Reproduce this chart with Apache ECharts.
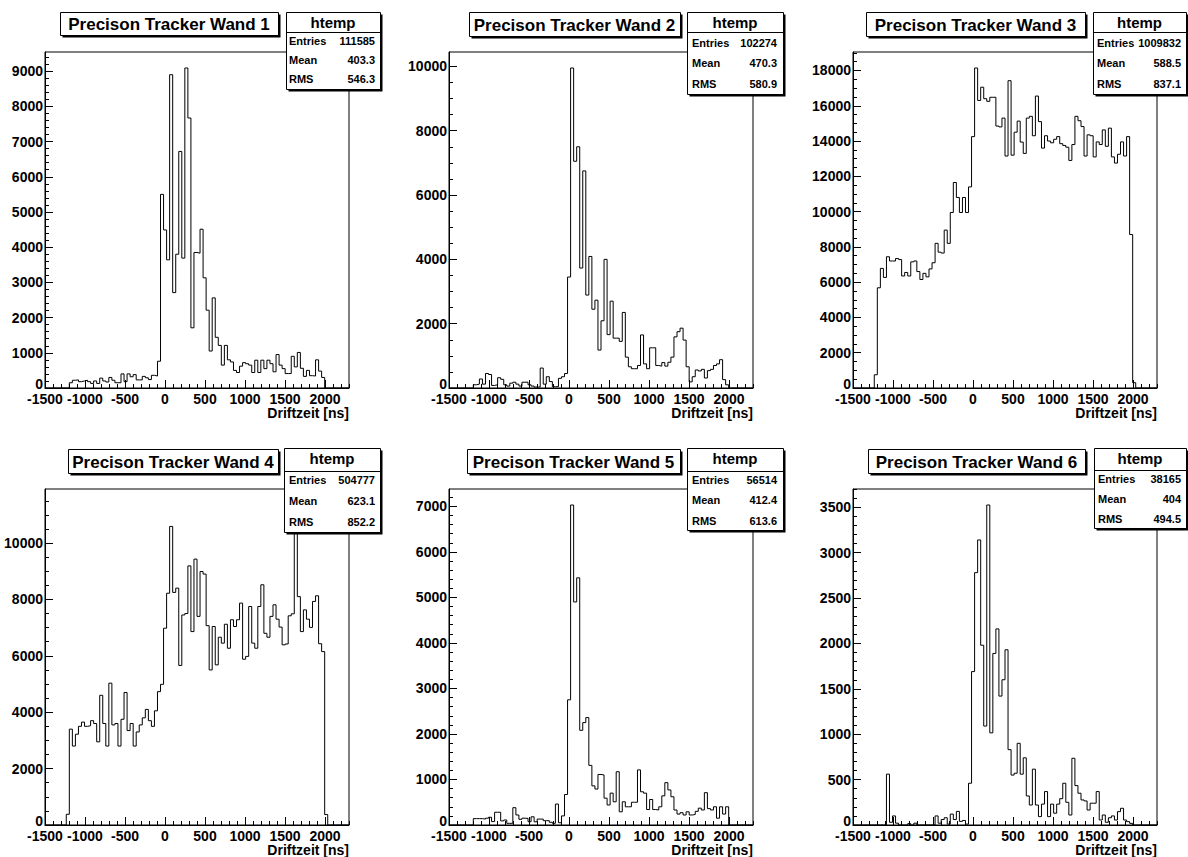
<!DOCTYPE html>
<html>
<head>
<meta charset="utf-8">
<title>Precison Tracker Driftzeit</title>
<script src="https://cdn.jsdelivr.net/npm/echarts@6/dist/echarts.min.js"></script>
<style>
  html, body { margin: 0; padding: 0; background: #ffffff; }
  #main { width: 1188px; height: 857px; }
</style>
</head>
<body>
<div id="main"></div>
<script>
// ---- Binning shared by all six walls (100 bins of 38 ns) ----
const binLow = -1500;
const binWidth = 38;
const binCount = 100;
const xAxisMax = binLow + binWidth * binCount;
const xLabelValues = [-1500, -1000, -500, 0, 500, 1000, 1500, 2000];
const xMinorStep = 100;

// ---- Bin contents, one array per wall ----
const wand1 = [
  0, 0, 0, 0, 0, 0, 0, 0, 150, 220,
  230, 180, 200, 220, 180, 130, 200, 130, 280, 200,
  170, 300, 220, 150, 150, 400, 180, 400, 320, 380,
  230, 230, 330, 290, 240, 360, 340, 760, 5500, 4490,
  3640, 8900, 2710, 3800, 6720, 3690, 9090, 7670, 1710, 3850,
  3830, 4510, 3130, 2210, 1050, 2560, 1440, 1210, 650, 1210,
  800, 740, 500, 440, 620, 720, 690, 650, 440, 790,
  440, 790, 550, 790, 690, 460, 950, 650, 550, 410,
  410, 900, 600, 1010, 560, 330, 500, 350, 340, 800,
  480, 300, 0, 0, 0, 0, 0, 0, 0, 0
];
const wand2 = [
  0, 0, 0, 0, 0, 0, 0, 0, 100, 120,
  280, 120, 450, 420, 80, 100, 320, 270, 100, 60,
  150, 180, 120, 60, 180, 180, 100, 60, 30, 30,
  620, 120, 350, 200, 40, 40, 300, 350, 450, 3450,
  9950, 7050, 7500, 3730, 6750, 2890, 4090, 2450, 2730, 1180,
  2090, 4000, 1660, 2700, 1550, 1550, 1450, 2350, 960, 660,
  600, 600, 700, 1650, 750, 600, 1250, 1250, 700, 680,
  790, 680, 800, 960, 1590, 1750, 1860, 1490, 660, 190,
  350, 560, 530, 580, 310, 540, 580, 700, 750, 880,
  260, 100, 0, 0, 0, 0, 0, 0, 0, 0
];
const wand3 = [
  0, 0, 0, 0, 0, 0, 0, 750, 5680, 6780,
  6270, 7440, 7200, 7200, 7340, 7280, 6350, 6550, 6350, 7150,
  7200, 6600, 6150, 6500, 6300, 6750, 7100, 8200, 7700, 7650,
  8950, 8200, 9950, 11650, 10800, 9950, 10800, 9950, 11400, 14250,
  18140, 16300, 17050, 16400, 16250, 16480, 16480, 14850, 14800, 15300,
  13150, 17420, 13200, 14500, 15130, 13940, 13300, 15300, 15400, 14300,
  16550, 15100, 13600, 14300, 14000, 13900, 14100, 14250, 13850, 13750,
  13650, 12900, 13800, 15400, 15150, 14820, 13150, 14350, 14300, 13100,
  13950, 13800, 14630, 13700, 14730, 13100, 12750, 13250, 13950, 13150,
  14250, 8700, 300, 0, 0, 0, 0, 0, 0, 0
];
const wand4 = [
  0, 0, 0, 0, 0, 0, 0, 380, 3400, 2800,
  3220, 3500, 3650, 3500, 3520, 3700, 3600, 2950, 4600, 3600,
  2800, 5030, 3550, 3600, 2800, 3750, 4700, 3350, 3600, 2800,
  3300, 3550, 3800, 4100, 3700, 3500, 4050, 4730, 4990, 6980,
  8220, 10590, 8250, 8400, 5660, 7450, 7500, 9190, 6860, 9430,
  7400, 8990, 8900, 7070, 5500, 7040, 5680, 6660, 6450, 7120,
  6270, 7280, 7040, 7280, 7870, 5880, 5980, 7750, 6450, 6270,
  7750, 8520, 6800, 6660, 7400, 7810, 7300, 7020, 6390, 6420,
  7420, 7490, 11350, 8100, 6860, 7630, 7300, 7010, 7930, 8130,
  6430, 6150, 370, 0, 0, 0, 0, 0, 0, 0
];
const wand5 = [
  0, 0, 0, 0, 0, 0, 0, 0, 140, 140,
  140, 130, 150, 170, 75, 280, 280, 90, 110, 37,
  37, 380, 220, 125, 150, 145, 73, 180, 70, 130,
  130, 95, 95, 60, 37, 460, 50, 200, 670, 2750,
  7030, 4900, 5430, 2080, 2250, 2360, 1310, 860, 790, 1110,
  1100, 590, 440, 700, 510, 1170, 290, 510, 400, 400,
  500, 500, 1210, 730, 700, 340, 560, 340, 330, 400,
  640, 930, 770, 620, 330, 240, 270, 220, 290, 220,
  230, 300, 370, 330, 710, 360, 330, 400, 150, 400,
  240, 400, 0, 0, 0, 0, 0, 0, 0, 0
];
const wand6 = [
  0, 0, 0, 0, 0, 0, 0, 0, 0, 0,
  0, 560, 30, 100, 20, 0, 0, 0, 15, 0,
  20, 0, 0, 0, 0, 0, 0, 100, 20, 60,
  80, 10, 120, 60, 150, 40, 50, 10, 460, 1690,
  2780, 3140, 1980, 1090, 3525, 1015, 1890, 2160, 1420, 1600,
  1930, 830, 550, 570, 900, 560, 740, 320, 220, 615,
  220, 92, 230, 368, 92, 230, 130, 230, 290, 460,
  250, 110, 735, 434, 350, 276, 265, 165, 240, 240,
  368, 55, 110, 30, 80, 100, 55, 147, 184, 55,
  37, 18, 0, 0, 0, 0, 0, 0, 0, 0
];
const histograms = [wand1, wand2, wand3, wand4, wand5, wand6];

// ---- Texts ----
const panelTitles = [
  'Precison Tracker Wand 1', 'Precison Tracker Wand 2', 'Precison Tracker Wand 3',
  'Precison Tracker Wand 4', 'Precison Tracker Wand 5', 'Precison Tracker Wand 6'
];
const statsName = 'htemp';
const statsEntries = ['111585', '102274', '1009832', '504777', '56514', '38165'];
const statsMean = ['403.3', '470.3', '588.5', '623.1', '412.4', '404'];
const statsRms = ['546.3', '580.9', '837.1', '852.2', '613.6', '494.5'];
const xTitle = 'Driftzeit [ns]';

// ---- Y tick spacing per wall ----
const yLabelStep = [1000, 2000, 2000, 2000, 1000, 500];
const yMinorStep = [200, 500, 500, 500, 200, 100];

// ---- Page layout in pixels (frame, title box, stats box) ----
const layout = [
  { grid: [45, 52, 304, 336], title: [60, 12, 218, 23], stats: [286, 12, 94, 77], head: 22, sep: 32, rows: [41, 60, 79], lx: 289, vx: 375, xname: 413 },
  { grid: [449, 52, 304, 336], title: [469, 12, 211, 24], stats: [687, 12, 96, 82], head: 22, sep: 32, rows: [43, 63, 84], lx: 692, vx: 777, xname: 413 },
  { grid: [853, 52, 304, 336], title: [866, 12, 219, 24], stats: [1093, 12, 93, 82], head: 22, sep: 32, rows: [43, 63, 84], lx: 1097, vx: 1181, xname: 413 },
  { grid: [45, 489, 304, 336], title: [68, 449, 210, 24], stats: [284, 448, 96, 84], head: 458, sep: 471, rows: [480, 501, 522], lx: 289, vx: 375, xname: 850 },
  { grid: [449, 489, 304, 336], title: [467, 449, 213, 24], stats: [687, 448, 96, 82], head: 458, sep: 471, rows: [480, 500, 521], lx: 692, vx: 777, xname: 850 },
  { grid: [853, 489, 304, 336], title: [868, 449, 217, 24], stats: [1094, 448, 92, 80], head: 458, sep: 470, rows: [479, 499, 519], lx: 1098, vx: 1181, xname: 850 }
];

const FONT = '"Liberation Sans", Arial, Helvetica, sans-serif';
const INK = '#000000';

// Step outline of a histogram: one point per lower bin edge, closed at the upper edge
function histPoints(counts) {
  const pts = counts.map((c, i) => [binLow + i * binWidth, c]);
  pts.push([binLow + binCount * binWidth, counts[counts.length - 1]]);
  return pts;
}

function range(from, to, step) {
  const out = [];
  for (let v = from; v <= to + 1e-9; v += step) out.push(v);
  return out;
}

const plainNumber = (v) => String(v);
// the count axis zero is lifted a little so it clears the time labels below it
const countLabel = (v) => (v === 0 ? '{zero|0}' : String(v));

const xMinorValues = range(binLow, xAxisMax, xMinorStep);

const grids = [], xAxes = [], yAxes = [], series = [], graphics = [];

histograms.forEach((counts, i) => {
  const L = layout[i];
  const yMax = Math.max(...counts) * 1.05;
  const yMajor = range(0, yMax, yLabelStep[i]);
  const yMinor = range(0, yMax, yMinorStep[i]);

  grids.push({
    left: L.grid[0], top: L.grid[1], width: L.grid[2], height: L.grid[3],
    show: true, borderColor: INK, borderWidth: 1, backgroundColor: 'transparent',
    containLabel: false, outerBoundsMode: 'none'
  });

  // main x axis: labels and long ticks
  xAxes.push({
    type: 'value', gridIndex: i, position: 'bottom', min: binLow, max: xAxisMax,
    axisLine: { show: true, onZero: false, lineStyle: { color: INK, width: 1 } },
    axisTick: { show: true, inside: true, length: 8, customValues: xLabelValues, lineStyle: { color: INK, width: 1 } },
    axisLabel: { show: true, customValues: xLabelValues, formatter: plainNumber, color: INK, fontFamily: FONT, fontWeight: 'bold', fontSize: 14, lineHeight: 10, margin: 6 },
    splitLine: { show: false }
  });
  // companion x axis: short minor ticks
  xAxes.push({
    type: 'value', gridIndex: i, position: 'bottom', min: binLow, max: xAxisMax,
    axisLine: { show: false, onZero: false },
    axisTick: { show: true, inside: true, length: 4, customValues: xMinorValues, lineStyle: { color: INK, width: 1 } },
    axisLabel: { show: false },
    splitLine: { show: false }
  });

  yAxes.push({
    type: 'value', gridIndex: i, position: 'left', min: 0, max: yMax,
    axisLine: { show: true, onZero: false, lineStyle: { color: INK, width: 1 } },
    axisTick: { show: true, inside: true, length: 8, customValues: yMajor, lineStyle: { color: INK, width: 1 } },
    axisLabel: {
      show: true, customValues: yMajor, formatter: countLabel, color: INK, fontFamily: FONT,
      fontWeight: 'bold', fontSize: 14, lineHeight: 10, margin: 2,
      rich: { zero: { fontFamily: FONT, fontWeight: 'bold', fontSize: 14, lineHeight: 10, color: INK, padding: [0, 0, 9, 0] } }
    },
    splitLine: { show: false }
  });
  yAxes.push({
    type: 'value', gridIndex: i, position: 'left', min: 0, max: yMax,
    axisLine: { show: false, onZero: false },
    axisTick: { show: true, inside: true, length: 4, customValues: yMinor, lineStyle: { color: INK, width: 1 } },
    axisLabel: { show: false },
    splitLine: { show: false }
  });

  series.push({
    type: 'line', name: panelTitles[i], xAxisIndex: 2 * i, yAxisIndex: 2 * i,
    step: 'end', showSymbol: false, symbol: 'none', animation: false, silent: true,
    lineStyle: { color: INK, width: 1 },
    data: histPoints(counts),
    z: 3
  });

  // title box with drop shadow
  const [tx, ty, tw, th] = L.title;
  graphics.push({ type: 'rect', z: 100, shape: { x: tx + 2.5, y: ty + 2.5, width: tw, height: th }, style: { fill: INK } });
  graphics.push({ type: 'rect', z: 101, shape: { x: tx + 0.5, y: ty + 0.5, width: tw, height: th }, style: { fill: '#ffffff', stroke: INK, lineWidth: 1 } });
  graphics.push({ type: 'text', z: 102, x: tx + tw / 2, y: ty + th / 2 + 1,
    style: { text: panelTitles[i], fill: INK, font: 'bold 17px ' + FONT, align: 'center', verticalAlign: 'middle' } });

  // statistics box
  const [sx, sy, sw, sh] = L.stats;
  graphics.push({ type: 'rect', z: 100, shape: { x: sx + 2.5, y: sy + 2.5, width: sw, height: sh }, style: { fill: INK } });
  graphics.push({ type: 'rect', z: 101, shape: { x: sx + 0.5, y: sy + 0.5, width: sw, height: sh }, style: { fill: '#ffffff', stroke: INK, lineWidth: 1 } });
  graphics.push({ type: 'line', z: 102, shape: { x1: sx + 0.5, y1: L.sep + 0.5, x2: sx + sw + 0.5, y2: L.sep + 0.5 }, style: { stroke: INK, lineWidth: 1 } });
  graphics.push({ type: 'text', z: 102, x: sx + sw / 2, y: L.head,
    style: { text: statsName, fill: INK, font: 'bold 15px ' + FONT, align: 'center', verticalAlign: 'middle' } });
  const rowLabels = ['Entries', 'Mean', 'RMS'];
  const rowValues = [statsEntries[i], statsMean[i], statsRms[i]];
  rowLabels.forEach((lab, r) => {
    graphics.push({ type: 'text', z: 102, x: L.lx, y: L.rows[r],
      style: { text: lab, fill: INK, font: 'bold 11px ' + FONT, align: 'left', verticalAlign: 'middle' } });
    graphics.push({ type: 'text', z: 102, x: L.vx, y: L.rows[r],
      style: { text: rowValues[r], fill: INK, font: 'bold 11px ' + FONT, align: 'right', verticalAlign: 'middle' } });
  });

  // x axis title, right-aligned under the frame
  graphics.push({ type: 'text', z: 102, x: L.grid[0] + L.grid[2], y: L.xname,
    style: { text: xTitle, fill: INK, font: 'bold 14px ' + FONT, align: 'right', verticalAlign: 'middle' } });
});

const chart = echarts.init(document.getElementById('main'), null, { renderer: 'svg', width: 1188, height: 857 });
chart.setOption({
  backgroundColor: '#ffffff',
  animation: false,
  grid: grids,
  xAxis: xAxes,
  yAxis: yAxes,
  series: series,
  graphic: { elements: graphics }
});
</script>
</body>
</html>
